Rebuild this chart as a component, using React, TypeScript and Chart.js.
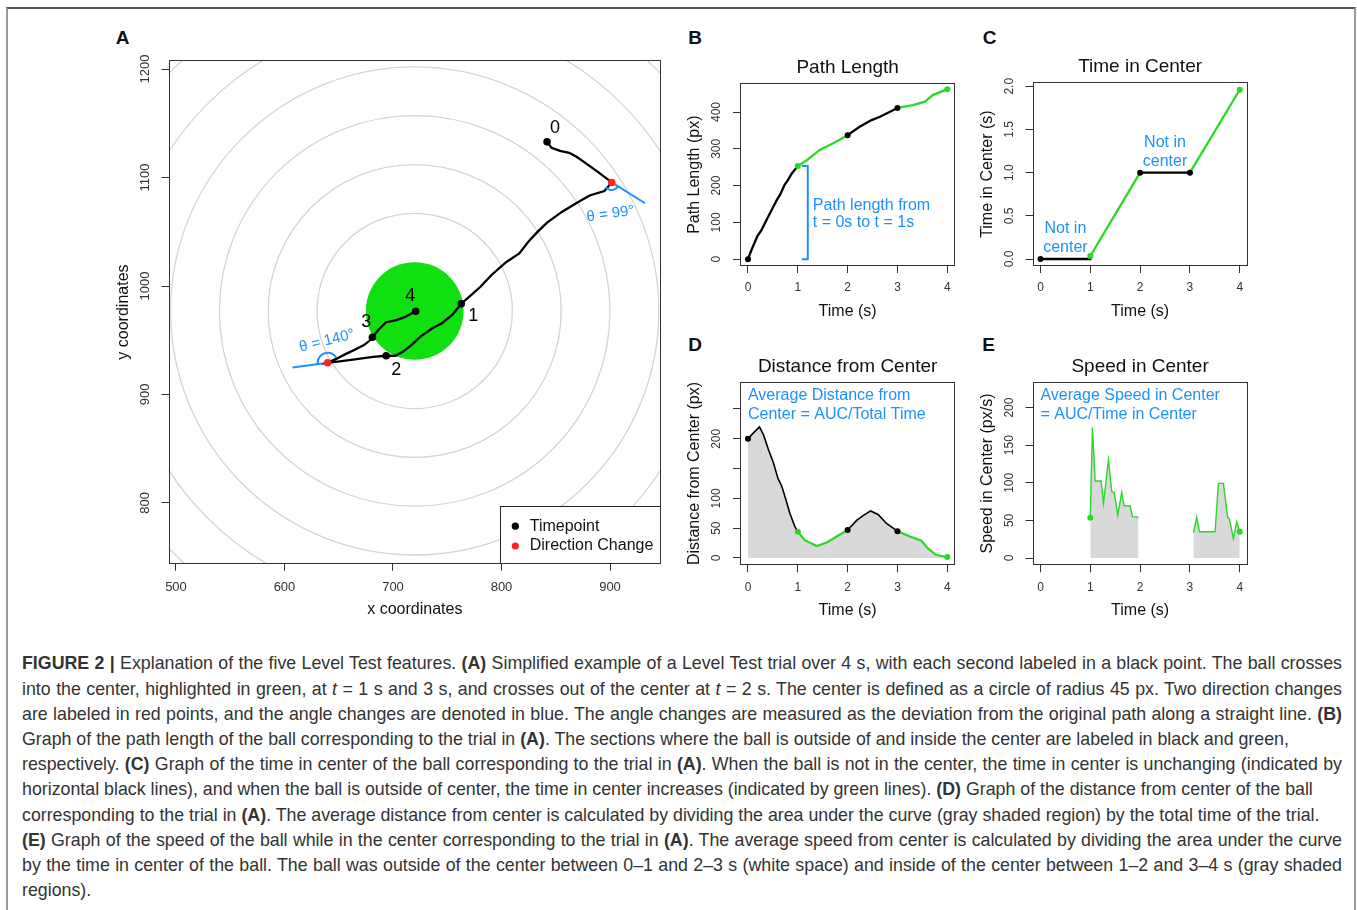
import React, { useEffect, useRef } from "react";
import { Chart, registerables } from "chart.js";

Chart.register(...registerables);

const FONT = '"Liberation Sans", Arial, Helvetica, sans-serif';
Chart.defaults.font.family = FONT;

const BLACK = "#000000";
const GREEN_LINE = "#26DA26";
const GREEN_FILL = "#10DF10";
const BLUE = "#1E90FF";
const RED = "#FF2222";
const SHADE = "#D9D9D9";
const RING = "#D4D4D4";

// ---------------- Panel A data ----------------
const pathX = [842.0, 846.1, 853.9, 862.4, 869.2, 879.5, 889.7, 901.6, 894.8, 881.2, 869.2, 855.6, 842.0, 833.4, 824.9, 816.4, 804.5, 790.8, 780.6, 770.4, 762.9, 755.0, 744.8, 736.3, 726.0, 717.5, 709.0, 702.2, 693.7, 681.7, 668.1, 654.5, 639.8, 647.6, 656.2, 664.7, 673.2, 678.3, 681.0, 686.8, 693.7, 702.2, 710.7, 717.5, 720.9];
const pathY = [1132.9, 1127.5, 1124.6, 1122.8, 1119.1, 1111.9, 1104.6, 1095.5, 1087.5, 1083.5, 1076.6, 1068.3, 1058.5, 1050.1, 1041.0, 1030.1, 1022.2, 1010.2, 999.3, 990.2, 983.7, 973.8, 965.5, 961.1, 953.9, 945.9, 939.3, 935.7, 935.7, 934.6, 932.8, 931.0, 929.2, 932.8, 937.2, 941.2, 945.5, 949.5, 952.8, 960.0, 966.6, 968.4, 971.3, 974.9, 976.8];
const timepointX = [842.0, 762.9, 693.7, 681.0, 720.9];
const timepointY = [1132.9, 983.7, 935.7, 952.8, 976.8];
const timepointLabels = ["0", "1", "2", "3", "4"];
const changeX = [901.6, 639.8];
const changeY = [1095.5, 929.2];
const changeNextTimepoint = [1, 3];
const extensionEndX = [932.3, 607.4];
const extensionEndY = [1076.3, 924.8];
const angleLabels = ["\u03b8 = 99\u00b0", "\u03b8 = 140\u00b0"];
const centerX = 720;
const centerY = 977;
const centerRadius = 45;
const ringRadii = [90, 135, 180, 225, 270, 315, 360, 405];
const xTicksA = [500, 600, 700, 800, 900];
const yTicksA = [800, 900, 1000, 1100, 1200];
const legendLabels = ["Timepoint", "Direction Change"];

// ---------------- Shared time axis ----------------
const timeTicks = [0, 1, 2, 3, 4];
const segmentBounds = [0, 1, 2, 3, 4];
const segmentInCenter = [false, true, false, true];
const timepointInCenter = [false, true, false, false, true];

// ---------------- Panel B data ----------------
const bTime = [0, 0.07, 0.19, 0.27, 0.39, 0.49, 0.58, 0.64, 0.73, 0.8, 0.88, 1, 1.18, 1.44, 1.71, 2, 2.24, 2.48, 2.65, 3, 3.31, 3.55, 3.71, 4];
const bLength = [0, 25, 63, 79, 111, 138, 161, 174, 201, 215, 233, 253, 269, 297, 315, 337, 360, 378, 387, 411, 419, 428, 446, 462];
const bDotValue = [0, 253, 337, 411, 462];
const bTicks = [0, 100, 200, 300, 400];
const bBracketX = [1.08, 1.2, 1.2, 1.08];
const bBracketY = [253, 253, 0, 0];
const bNoteLines = ["Path length from", "t = 0s to t = 1s"];
const bNoteX = 1.3;
const bNoteY = [146.6, 100.6];

// ---------------- Panel C data ----------------
const cTime = [0, 1, 1, 2, 3, 4];
const cValue = [0, 0, 0.035, 1, 1, 1.96];
const cDotValue = [0, 0.035, 1, 1, 1.96];
const cTicks = [0, 0.5, 1, 1.5, 2];
const cNoteLines = ["Not in", "center", "Not in", "center"];
const cNoteX = [0.5, 0.5, 2.5, 2.5];
const cNoteY = [0.347, 0.127, 1.343, 1.123];

// ---------------- Panel D data ----------------
const dTime = [0, 0.11, 0.23, 0.31, 0.41, 0.51, 0.6, 0.68, 0.76, 0.84, 0.94, 1, 1.14, 1.38, 1.58, 1.78, 2, 2.18, 2.31, 2.46, 2.61, 2.78, 3, 3.25, 3.48, 3.61, 3.78, 4];
const dDist = [200, 210, 220, 207, 182, 160, 134, 120, 98, 75, 53, 44, 30, 20, 26, 36, 47, 63, 71, 79, 73, 58, 45, 36, 29, 16, 5, 1.5];
const dDotValue = [200, 44, 47, 45, 1.5];
const dTicks = [0, 50, 100, 150, 200, 250];
const dLabeledTicks = [0, 50, 100, 200];
const dNoteLines = ["Average Distance from", "Center = AUC/Total Time"];
const dNoteY = [272.3, 240.4];

// ---------------- Panel E data ----------------
const eTime = [1.0, 1.043, 1.097, 1.217, 1.264, 1.365, 1.431, 1.478, 1.552, 1.632, 1.679, 1.799, 1.846, 1.967, 3.07, 3.137, 3.19, 3.505, 3.572, 3.672, 3.759, 3.793, 3.873, 3.94, 4.0];
const eSpeed = [53.6, 173.7, 102.3, 102.3, 72.7, 130.3, 88.2, 87.3, 57.2, 87.3, 69.5, 69.5, 54.9, 54.1, 33.7, 54.1, 35, 35, 99.2, 99.2, 54.1, 51.8, 26.1, 48.3, 35];
const eDotTime = [1, 4];
const eDotValue = [53.6, 35];
const eSegments = [[1, 2], [3, 4]];
const eTicks = [0, 50, 100, 150, 200];
const eNoteLines = ["Average Speed in Center", "= AUC/Time in Center"];
const eNoteY = [215.8, 190.6];

// ---------------- Layout (page pixels) ----------------
type Box = { left: number; top: number; right: number; bottom: number };
const boxA: Box = { left: 168.6, top: 60.4, right: 661, bottom: 563.7 };
const boxB: Box = { left: 740, top: 83.3, right: 955.3, bottom: 266 };
const boxC: Box = { left: 1032.5, top: 82.3, right: 1247.7, bottom: 266 };
const boxD: Box = { left: 740, top: 381.7, right: 955.3, bottom: 565.3 };
const boxE: Box = { left: 1032.5, top: 381.7, right: 1247.7, bottom: 565.3 };

const AXIS_TITLE_SIZE = 16;
const MAIN_TITLE_SIZE = 19;
const LH = 1.2;

function geometry(box: Box, hasTitle: boolean) {
  const cl = Math.floor(box.left - 62);
  const ct = Math.floor(box.top - 40);
  const cr = Math.ceil(box.right + 14);
  const cb = Math.ceil(box.bottom + 62);
  const axLH = AXIS_TITLE_SIZE * LH;
  const yTitleX = box.left - 45;
  const padLeft = yTitleX - axLH / 2 - cl;
  const yAxisWidth = box.left - cl - padLeft;
  const xTitleY = box.bottom + 45.7;
  const xAxisHeight = xTitleY + axLH / 2 - box.bottom;
  const padBottom = cb - box.bottom - xAxisHeight;
  const padRight = cr - box.right;
  const tLH = MAIN_TITLE_SIZE * LH;
  const titleTop = box.top - 15.4 - tLH / 2;
  const padTop = hasTitle ? titleTop - ct : box.top - ct;
  const titleBottomPad = box.top - titleTop - tLH;
  return { cl, ct, w: cr - cl, h: cb - ct, padLeft, padRight, padTop, padBottom, yAxisWidth, xAxisHeight, titleBottomPad };
}

let measureCtx: CanvasRenderingContext2D | null = null;
function measure(text: string, size: number) {
  if (!measureCtx) measureCtx = document.createElement("canvas").getContext("2d");
  measureCtx!.font = `${size}px ${FONT}`;
  return measureCtx!.measureText(text).width;
}

type AxisSpec = {
  xMin: number; xMax: number; yMin: number; yMax: number;
  xTicks: number[]; yTicks: number[];
  yLabel?: (v: number) => string;
  xTitle: string; yTitle: string;
  tickSize: number; xLabelGap: number;
};

function axes(g: any, s: AxisSpec) {
  const yFmt = s.yLabel || ((v: number) => String(v));
  const widest = Math.max(...s.yTicks.map((v) => measure(yFmt(v), s.tickSize)));
  const tickFont = { family: FONT, size: s.tickSize, lineHeight: LH };
  const titleFont = { family: FONT, size: AXIS_TITLE_SIZE, lineHeight: LH };
  const grid = { display: true, drawOnChartArea: false, drawTicks: true, tickLength: 7, color: "#333", lineWidth: 1 };
  return {
    x: {
      type: "linear", position: "bottom", bounds: "data", min: s.xMin, max: s.xMax,
      afterBuildTicks: (sc: any) => { sc.ticks = s.xTicks.map((v) => ({ value: v })); },
      afterFit: (sc: any) => { sc.height = g.xAxisHeight; },
      border: { display: false },
      grid,
      ticks: {
        autoSkip: false, maxRotation: 0, minRotation: 0, font: tickFont, color: "#333",
        padding: s.xLabelGap - 7 - (s.tickSize * LH) / 2,
        callback: (v: any) => String(v),
      },
      title: { display: true, text: s.xTitle, font: titleFont, color: "#111", padding: 0 },
    },
    y: {
      type: "linear", position: "left", bounds: "data", min: s.yMin, max: s.yMax,
      afterBuildTicks: (sc: any) => { sc.ticks = s.yTicks.map((v) => ({ value: v })); },
      afterFit: (sc: any) => { sc.width = g.yAxisWidth; },
      border: { display: false },
      grid,
      ticks: {
        autoSkip: false, minRotation: 90, maxRotation: 90, crossAlign: "center",
        padding: 16 - widest / 2, font: tickFont, color: "#333",
        callback: (v: any) => yFmt(Number(v)),
      },
      title: { display: true, text: s.yTitle, font: titleFont, color: "#111", padding: 0 },
    },
  };
}

function baseOptions(g: any, s: AxisSpec, title?: string) {
  return {
    responsive: false,
    maintainAspectRatio: false,
    animation: false,
    events: [],
    layout: { padding: { left: g.padLeft, right: g.padRight, top: g.padTop, bottom: g.padBottom } },
    plugins: {
      legend: { display: false },
      tooltip: { enabled: false },
      title: title
        ? {
            display: true, text: title, fullSize: false, color: "#111",
            font: { family: FONT, size: MAIN_TITLE_SIZE, weight: "normal", lineHeight: LH },
            padding: { top: 0, bottom: g.titleBottomPad },
          }
        : { display: false },
    },
    scales: axes(g, s),
  };
}

const boxPlugin = {
  id: "rBox",
  afterDraw(chart: any) {
    const { ctx, chartArea: a } = chart;
    const l = Math.round(a.left) + 0.5, t = Math.round(a.top) + 0.5;
    const r = Math.round(a.right) - 0.5, b = Math.round(a.bottom) - 0.5;
    ctx.save();
    ctx.strokeStyle = "#333";
    ctx.lineWidth = 1;
    ctx.strokeRect(l, t, r - l, b - t);
    ctx.restore();
  },
};

function notePlugin(id: string, xs: number[], ys: number[], lines: string[], align: CanvasTextAlign) {
  return {
    id,
    afterDatasetsDraw(chart: any) {
      const { ctx, scales } = chart;
      ctx.save();
      ctx.fillStyle = BLUE;
      ctx.font = `16px ${FONT}`;
      ctx.textAlign = align;
      ctx.textBaseline = "middle";
      lines.forEach((txt, i) => {
        ctx.fillText(txt, scales.x.getPixelForValue(xs[i]), scales.y.getPixelForValue(ys[i]));
      });
      ctx.restore();
    },
  };
}

function pts(xs: number[], ys: number[]) {
  return xs.map((x, i) => ({ x, y: ys[i] }));
}

function segment(times: number[], values: number[], a: number, b: number) {
  const out: { x: number; y: number }[] = [];
  times.forEach((t, i) => { if (t >= a && t <= b) out.push({ x: t, y: values[i] }); });
  return out;
}

function lineDs(data: any[], color: string, width: number, order = 2, extra: any = {}) {
  return { data, showLine: true, borderColor: color, borderWidth: width, pointRadius: 0, tension: 0, fill: false, order, ...extra };
}

function dotsDs(data: any[], colors: any, r = 3) {
  return { data, showLine: false, pointRadius: r, pointBackgroundColor: colors, pointBorderWidth: 0, order: 0 };
}

function segmentedLines(times: number[], values: number[], widths: [number, number]) {
  return segmentInCenter.map((inC, i) =>
    lineDs(segment(times, values, segmentBounds[i], segmentBounds[i + 1]), inC ? GREEN_LINE : BLACK, inC ? widths[1] : widths[0], 2)
  );
}

const dotColors = timepointInCenter.map((c) => (c ? GREEN_LINE : BLACK));

// ---------------- Panel A plugins ----------------
const timepointLabelOffsetPx = [[8, -14], [12, 12.6], [10, 14], [-6, -15], [-5.5, -15.5]];
const angleLabelOffsetPx = [[-1.2, 31.5], [-0.7, -22]];
const angleLabelRotationDeg = [-8, -14];
const angleArcRadiusPx = [7.5, 10];

const aBackground = {
  id: "aBackground",
  beforeDatasetsDraw(chart: any) {
    const { ctx, chartArea: a, scales: { x, y } } = chart;
    const cx = x.getPixelForValue(centerX), cy = y.getPixelForValue(centerY);
    ctx.save();
    ctx.beginPath();
    ctx.rect(a.left, a.top, a.right - a.left, a.bottom - a.top);
    ctx.clip();
    ctx.strokeStyle = RING;
    ctx.lineWidth = 1.3;
    ringRadii.forEach((r) => {
      const rx = Math.abs(x.getPixelForValue(centerX + r) - cx);
      const ry = Math.abs(y.getPixelForValue(centerY + r) - cy);
      ctx.beginPath();
      ctx.ellipse(cx, cy, rx, ry, 0, 0, Math.PI * 2);
      ctx.stroke();
    });
    const grx = Math.abs(x.getPixelForValue(centerX + centerRadius) - cx);
    const gry = Math.abs(y.getPixelForValue(centerY + centerRadius) - cy);
    ctx.fillStyle = GREEN_FILL;
    ctx.beginPath();
    ctx.ellipse(cx, cy, grx, gry, 0, 0, Math.PI * 2);
    ctx.fill();
    ctx.restore();
  },
};

const aOverlay = {
  id: "aOverlay",
  afterDatasetsDraw(chart: any) {
    const { ctx, chartArea: a, scales: { x, y } } = chart;
    ctx.save();
    changeX.forEach((cxv, i) => {
      const px = x.getPixelForValue(cxv), py = y.getPixelForValue(changeY[i]);
      const ex = x.getPixelForValue(extensionEndX[i]), ey = y.getPixelForValue(extensionEndY[i]);
      const k = changeNextTimepoint[i];
      const nx = x.getPixelForValue(timepointX[k]), ny = y.getPixelForValue(timepointY[k]);
      const a1 = Math.atan2(ey - py, ex - px);
      const a2 = Math.atan2(ny - py, nx - px);
      let d = a2 - a1;
      while (d > Math.PI) d -= 2 * Math.PI;
      while (d <= -Math.PI) d += 2 * Math.PI;
      ctx.strokeStyle = BLUE;
      ctx.lineWidth = 2;
      ctx.beginPath();
      ctx.arc(px, py, angleArcRadiusPx[i], a1, a1 + d, d < 0);
      ctx.stroke();
      ctx.save();
      ctx.translate(px + angleLabelOffsetPx[i][0], py + angleLabelOffsetPx[i][1]);
      ctx.rotate((angleLabelRotationDeg[i] * Math.PI) / 180);
      ctx.fillStyle = BLUE;
      ctx.font = `15px ${FONT}`;
      ctx.textAlign = "center";
      ctx.textBaseline = "middle";
      ctx.fillText(angleLabels[i], 0, 0);
      ctx.restore();
    });
    ctx.fillStyle = "#000";
    ctx.font = `18px ${FONT}`;
    ctx.textAlign = "center";
    ctx.textBaseline = "middle";
    timepointLabels.forEach((lab, i) => {
      const px = x.getPixelForValue(timepointX[i]), py = y.getPixelForValue(timepointY[i]);
      ctx.fillText(lab, px + timepointLabelOffsetPx[i][0], py + timepointLabelOffsetPx[i][1]);
    });
    const lw = 161, lh = 58;
    const lx = Math.round(a.right - lw) + 0.5, ly = Math.round(a.bottom - lh) + 0.5;
    ctx.fillStyle = "#fff";
    ctx.fillRect(lx, ly, a.right - lx, a.bottom - ly);
    ctx.strokeStyle = "#222";
    ctx.lineWidth = 1;
    ctx.strokeRect(lx, ly, Math.round(a.right) - 0.5 - lx, Math.round(a.bottom) - 0.5 - ly);
    const legendColors = [BLACK, RED];
    legendLabels.forEach((lab, i) => {
      const yy = ly + 19.7 + i * 19.8;
      ctx.fillStyle = legendColors[i];
      ctx.beginPath();
      ctx.arc(lx + 14.8, yy, 3.6, 0, Math.PI * 2);
      ctx.fill();
      ctx.fillStyle = "#111";
      ctx.font = `16px ${FONT}`;
      ctx.textAlign = "left";
      ctx.fillText(lab, lx + 29.2, yy);
    });
    ctx.restore();
  },
};

// ---------------- Config builders ----------------
const buildA = (g: any) => ({
  type: "scatter",
  data: {
    datasets: [
      dotsDs(pts(timepointX, timepointY), BLACK, 3.8),
      dotsDs(pts(changeX, changeY), RED, 3.8),
      lineDs(pts(pathX, pathY), BLACK, 2.3, 1),
      ...changeX.map((cx, i) =>
        lineDs([{ x: cx, y: changeY[i] }, { x: extensionEndX[i], y: extensionEndY[i] }], BLUE, 2, 2)
      ),
    ],
  },
  options: baseOptions(g, {
    xMin: 493.2, xMax: 947, yMin: 744, yMax: 1208, xTicks: xTicksA, yTicks: yTicksA,
    xTitle: "x coordinates", yTitle: "y coordinates", tickSize: 13, xLabelGap: 23.7,
  }),
  plugins: [aBackground, aOverlay, boxPlugin],
});

const SMALL_TICK = 12;

const buildB = (g: any) => ({
  type: "scatter",
  data: {
    datasets: [
      dotsDs(pts(timeTicks, bDotValue), dotColors),
      ...segmentedLines(bTime, bLength, [2.3, 2.3]),
      lineDs(pts(bBracketX, bBracketY), BLUE, 2, 3),
    ],
  },
  options: baseOptions(g, {
    xMin: -0.16, xMax: 4.16, yMin: -18.5, yMax: 478, xTicks: timeTicks, yTicks: bTicks,
    xTitle: "Time (s)", yTitle: "Path Length (px)", tickSize: SMALL_TICK, xLabelGap: 22,
  }, "Path Length"),
  plugins: [notePlugin("bNote", [bNoteX, bNoteX], bNoteY, bNoteLines, "left"), boxPlugin],
});

const buildC = (g: any) => ({
  type: "scatter",
  data: {
    datasets: [
      dotsDs(pts(timeTicks, cDotValue), dotColors),
      ...segmentedLines(cTime, cValue, [2.3, 2.3]),
    ],
  },
  options: baseOptions(g, {
    xMin: -0.16, xMax: 4.16, yMin: -0.081, yMax: 2.046, xTicks: timeTicks, yTicks: cTicks,
    yLabel: (v) => v.toFixed(1),
    xTitle: "Time (s)", yTitle: "Time in Center (s)", tickSize: SMALL_TICK, xLabelGap: 22,
  }, "Time in Center"),
  plugins: [notePlugin("cNote", cNoteX, cNoteY, cNoteLines, "center"), boxPlugin],
});

const buildD = (g: any) => ({
  type: "scatter",
  data: {
    datasets: [
      dotsDs(pts(timeTicks, dDotValue), dotColors),
      ...segmentedLines(dTime, dDist, [1.6, 2.2]),
      lineDs(pts(dTime, dDist), "rgba(0,0,0,0)", 0, 5, { fill: "origin", backgroundColor: SHADE }),
    ],
  },
  options: baseOptions(g, {
    xMin: -0.16, xMax: 4.16, yMin: -12.25, yMax: 295.8, xTicks: timeTicks, yTicks: dTicks,
    yLabel: (v) => (dLabeledTicks.includes(v) ? String(v) : ""),
    xTitle: "Time (s)", yTitle: "Distance from Center (px)", tickSize: SMALL_TICK, xLabelGap: 22,
  }, "Distance from Center"),
  plugins: [notePlugin("dNote", [0, 0], dNoteY, dNoteLines, "left"), boxPlugin],
});

const buildE = (g: any) => ({
  type: "scatter",
  data: {
    datasets: [
      dotsDs(pts(eDotTime, eDotValue), GREEN_LINE),
      ...eSegments.map(([a, b]) =>
        lineDs(segment(eTime, eSpeed, a, b), GREEN_LINE, 1.4, 2, { fill: "origin", backgroundColor: SHADE })
      ),
    ],
  },
  options: baseOptions(g, {
    xMin: -0.16, xMax: 4.16, yMin: -9.7, yMax: 234.4, xTicks: timeTicks, yTicks: eTicks,
    xTitle: "Time (s)", yTitle: "Speed in Center (px/s)", tickSize: SMALL_TICK, xLabelGap: 22,
  }, "Speed in Center"),
  plugins: [notePlugin("eNote", [0, 0], eNoteY, eNoteLines, "left"), boxPlugin],
});

function PanelChart({ box, hasTitle, build }: { box: Box; hasTitle: boolean; build: (g: any) => any }) {
  const ref = useRef<HTMLCanvasElement | null>(null);
  const g = geometry(box, hasTitle);
  useEffect(() => {
    const chart = new Chart(ref.current as HTMLCanvasElement, build(g) as any);
    return () => chart.destroy();
  }, []);
  return (
    <canvas
      ref={ref}
      width={g.w}
      height={g.h}
      style={{ position: "absolute", left: g.cl, top: g.ct, width: g.w, height: g.h }}
    />
  );
}

const panelLetters = [
  { t: "A", x: 122.5, y: 37 },
  { t: "B", x: 695, y: 36.5 },
  { t: "C", x: 989.5, y: 36.5 },
  { t: "D", x: 695, y: 344 },
  { t: "E", x: 988.5, y: 344 },
];

const b = (s: string) => <b style={{ fontWeight: 700 }}>{s}</b>;
const it = (s: string) => <i>{s}</i>;

const captionLines: { parts: React.ReactNode[]; justify: boolean }[] = [
  { parts: [b("FIGURE 2 |"), " Explanation of the five Level Test features. ", b("(A)"), " Simplified example of a Level Test trial over 4 s, with each second labeled in a black point. The ball crosses"], justify: true },
  { parts: ["into the center, highlighted in green, at ", it("t"), " = 1 s and 3 s, and crosses out of the center at ", it("t"), " = 2 s. The center is defined as a circle of radius 45 px. Two direction changes"], justify: true },
  { parts: ["are labeled in red points, and the angle changes are denoted in blue. The angle changes are measured as the deviation from the original path along a straight line. ", b("(B)")], justify: true },
  { parts: ["Graph of the path length of the ball corresponding to the trial in ", b("(A)"), ". The sections where the ball is outside of and inside the center are labeled in black and green,"], justify: false },
  { parts: ["respectively. ", b("(C)"), " Graph of the time in center of the ball corresponding to the trial in ", b("(A)"), ". When the ball is not in the center, the time in center is unchanging (indicated by"], justify: true },
  { parts: ["horizontal black lines), and when the ball is outside of center, the time in center increases (indicated by green lines). ", b("(D)"), " Graph of the distance from center of the ball"], justify: false },
  { parts: ["corresponding to the trial in ", b("(A)"), ". The average distance from center is calculated by dividing the area under the curve (gray shaded region) by the total time of the trial."], justify: false },
  { parts: [b("(E)"), " Graph of the speed of the ball while in the center corresponding to the trial in ", b("(A)"), ". The average speed from center is calculated by dividing the area under the curve"], justify: true },
  { parts: ["by the time in center of the ball. The ball was outside of the center between 0\u20131 and 2\u20133 s (white space) and inside of the center between 1\u20132 and 3\u20134 s (gray shaded"], justify: true },
  { parts: ["regions)."], justify: false },
];

export default function App() {
  return (
    <div style={{ position: "absolute", left: 0, top: 0, width: 1357, height: 910, overflow: "hidden", background: "#fff", fontFamily: FONT }}>
      <div
        style={{
          position: "absolute", left: 6, top: 7, width: 1350, height: 910, boxSizing: "border-box",
          borderTop: "2px solid #555", borderLeft: "2px solid #999", borderRight: "2px solid #999",
        }}
      />
      {panelLetters.map((p) => (
        <div
          key={p.t}
          style={{
            position: "absolute", left: p.x, top: p.y, transform: "translate(-50%, -50%)",
            fontWeight: 700, fontSize: 19, lineHeight: 1, color: "#111",
          }}
        >
          {p.t}
        </div>
      ))}
      <PanelChart box={boxA} hasTitle={false} build={buildA} />
      <PanelChart box={boxB} hasTitle={true} build={buildB} />
      <PanelChart box={boxC} hasTitle={true} build={buildC} />
      <PanelChart box={boxD} hasTitle={true} build={buildD} />
      <PanelChart box={boxE} hasTitle={true} build={buildE} />
      <div style={{ position: "absolute", left: 22, top: 651.4, width: 1320, fontSize: 17.8, lineHeight: "25.2px", color: "#333" }}>
        {captionLines.map((ln, i) => (
          <div
            key={i}
            style={{
              whiteSpace: "nowrap",
              textAlign: ln.justify ? "justify" : "left",
              textAlignLast: ln.justify ? "justify" : "left",
            } as any}
          >
            {ln.parts.map((p, j) => (
              <React.Fragment key={j}>{p}</React.Fragment>
            ))}
          </div>
        ))}
      </div>
    </div>
  );
}
